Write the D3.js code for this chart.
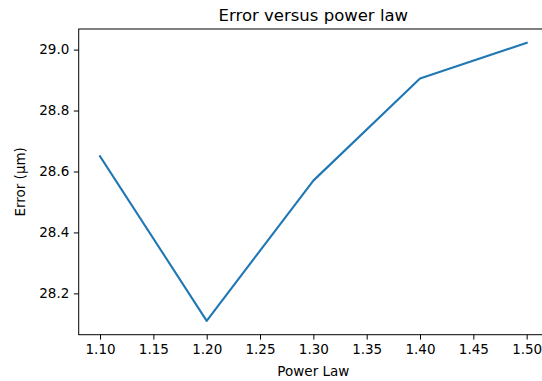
<!DOCTYPE html>
<html>
<head>
<meta charset="utf-8">
<script src="https://cdn.jsdelivr.net/npm/d3@7"></script>
<style>
  html, body { margin: 0; padding: 0; background: #fff; }
  svg { display: block; font-family: "DejaVu Sans", sans-serif; }
</style>
</head>
<body>
<svg id="chart" width="542" height="381"></svg>
<script>
// Power-law exponent tried and the resulting error
const powerLaw = [1.1, 1.2, 1.3, 1.4, 1.5];
const errorUm = [28.65, 28.11, 28.57, 28.905, 29.022];
const xTicks = [1.10, 1.15, 1.20, 1.25, 1.30, 1.35, 1.40, 1.45, 1.50];
const yTicks = [28.2, 28.4, 28.6, 28.8, 29.0];

const svg = d3.select("#chart");
const plot = { left: 78.7, right: 548, top: 29, bottom: 334.7 };

// 5% padding on each side of the data range
const xPad = (d3.max(powerLaw) - d3.min(powerLaw)) * 0.05;
const yPad = (d3.max(errorUm) - d3.min(errorUm)) * 0.05;
const x = d3.scaleLinear()
  .domain([d3.min(powerLaw) - xPad, d3.max(powerLaw) + xPad])
  .range([plot.left, plot.right]);
const y = d3.scaleLinear()
  .domain([d3.min(errorUm) - yPad, d3.max(errorUm) + yPad])
  .range([plot.bottom, plot.top]);

const tickFont = 13.5;

// x axis
const xAxis = svg.append("g")
  .attr("transform", `translate(0,${plot.bottom})`)
  .call(d3.axisBottom(x).tickValues(xTicks).tickFormat(d3.format(".2f"))
    .tickSizeInner(4.9).tickSizeOuter(0).tickPadding(4.5));
// y axis
const yAxis = svg.append("g")
  .attr("transform", `translate(${plot.left},0)`)
  .call(d3.axisLeft(y).tickValues(yTicks).tickFormat(d3.format(".1f"))
    .tickSizeInner(4.9).tickSizeOuter(0).tickPadding(4.5));

[xAxis, yAxis].forEach(g => {
  g.select(".domain").remove();
  g.selectAll(".tick line").attr("stroke", "#000").attr("stroke-width", 1);
  g.selectAll(".tick text")
    .attr("fill", "#000")
    .style("font-family", "'DejaVu Sans', sans-serif")
    .style("font-size", tickFont + "px");
});

// frame around the plotting area
svg.append("rect")
  .attr("x", plot.left).attr("y", plot.top)
  .attr("width", plot.right - plot.left).attr("height", plot.bottom - plot.top)
  .attr("fill", "none").attr("stroke", "#000").attr("stroke-width", 1);

// error curve
const line = d3.line().x((d, i) => x(powerLaw[i])).y(d => y(d));
svg.append("path")
  .datum(errorUm)
  .attr("d", line)
  .attr("fill", "none")
  .attr("stroke", "#1f77b4")
  .attr("stroke-width", 2.1)
  .attr("stroke-linejoin", "round")
  .attr("stroke-linecap", "square");

// labels
svg.append("text")
  .attr("x", (plot.left + plot.right) / 2).attr("y", 20.5)
  .attr("text-anchor", "middle")
  .style("font-size", "16.5px")
  .text("Error versus power law");

svg.append("text")
  .attr("x", (plot.left + plot.right) / 2).attr("y", 375.5)
  .attr("text-anchor", "middle")
  .style("font-size", tickFont + "px")
  .text("Power Law");

svg.append("text")
  .attr("transform", `translate(25,${(plot.top + plot.bottom) / 2}) rotate(-90)`)
  .attr("text-anchor", "middle")
  .style("font-size", tickFont + "px")
  .text("Error (µm)");
</script>
</body>
</html>
